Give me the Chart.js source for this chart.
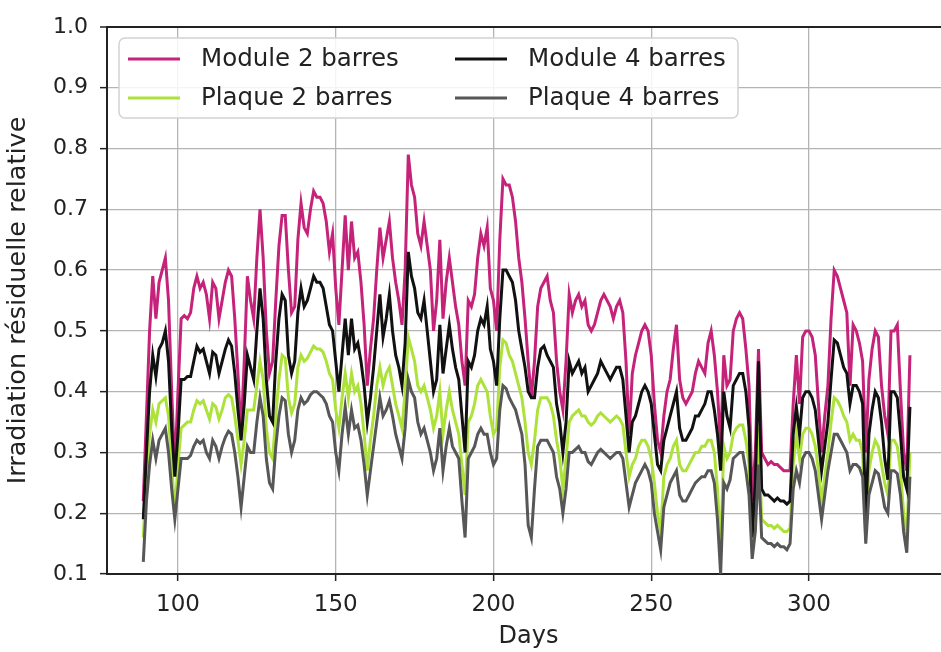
<!DOCTYPE html>
<html>
<head>
<meta charset="utf-8">
<script src="https://cdn.jsdelivr.net/npm/chart.js@4.4.1/dist/chart.umd.min.js"></script>
<style>
  html, body { margin: 0; padding: 0; background: #fff; overflow: hidden; width: 941px; height: 652px; }
  #wrap { position: absolute; left: 0; top: 0; width: 950px; height: 652px; }
</style>
</head>
<body>
<div id="wrap"><canvas id="c" width="950" height="652"></canvas></div>
<script>
// Daily relative residual irradiation, day 89 to day 332
const firstDay = 89;

const module2 = [
  0.22,0.36,0.50,0.59,0.52,0.58,0.60,0.62,0.55,0.40,0.27,
  0.40,0.52,0.525,0.52,0.53,0.57,0.59,0.57,0.58,0.56,
  0.52,0.58,0.57,0.52,0.55,0.58,0.60,0.59,0.52,0.43,
  0.33,0.45,0.59,0.55,0.52,0.62,0.70,0.62,0.50,0.43,
  0.45,0.55,0.64,0.69,0.69,0.60,0.53,0.54,0.65,0.71,
  0.67,0.66,0.70,0.73,0.72,0.72,0.71,0.68,0.63,0.66,
  0.57,0.51,0.60,0.69,0.60,0.68,0.62,0.63,0.58,0.51,
  0.41,0.47,0.52,0.60,0.67,0.62,0.65,0.68,0.62,0.58,
  0.55,0.51,0.60,0.79,0.74,0.72,0.66,0.64,0.68,0.64,
  0.60,0.50,0.55,0.65,0.52,0.58,0.62,0.58,0.54,0.51,
  0.45,0.41,0.55,0.54,0.56,0.62,0.66,0.64,0.67,0.57,
  0.55,0.50,0.65,0.75,0.74,0.74,0.72,0.68,0.62,0.58,
  0.52,0.45,0.39,0.45,0.54,0.57,0.58,0.59,0.55,0.53,
  0.45,0.40,0.37,0.45,0.56,0.53,0.55,0.56,0.54,0.55,
  0.51,0.50,0.51,0.53,0.55,0.56,0.55,0.54,0.52,0.54,
  0.55,0.53,0.45,0.33,0.43,0.46,0.48,0.50,0.51,0.50,
  0.46,0.38,0.32,0.30,0.36,0.40,0.42,0.47,0.51,0.42,
  0.39,0.38,0.39,0.40,0.43,0.45,0.44,0.43,0.48,0.50,
  0.46,0.40,0.31,0.46,0.41,0.42,0.50,0.52,0.53,0.52,
  0.47,0.41,0.22,0.30,0.47,0.30,0.29,0.28,0.285,0.28,
  0.28,0.275,0.27,0.27,0.27,0.38,0.46,0.38,0.49,0.50,
  0.50,0.49,0.46,0.38,0.30,0.36,0.41,0.52,0.60,0.59,
  0.57,0.55,0.53,0.41,0.51,0.50,0.48,0.45,0.30,0.42,
  0.47,0.50,0.49,0.41,0.36,0.33,0.50,0.50,0.51,0.40,
  0.30,0.27,0.46
];

const module4 = [
  0.19,0.30,0.40,0.46,0.425,0.47,0.48,0.50,0.45,0.34,0.26,
  0.33,0.42,0.42,0.425,0.425,0.45,0.475,0.465,0.47,0.45,
  0.43,0.465,0.46,0.43,0.45,0.47,0.485,0.475,0.43,0.37,
  0.32,0.38,0.46,0.44,0.42,0.50,0.57,0.52,0.42,0.36,
  0.35,0.45,0.52,0.56,0.55,0.46,0.43,0.45,0.53,0.57,
  0.54,0.55,0.57,0.59,0.58,0.58,0.57,0.54,0.51,0.50,
  0.45,0.40,0.46,0.52,0.46,0.52,0.47,0.48,0.45,0.41,
  0.35,0.39,0.44,0.50,0.56,0.49,0.52,0.56,0.50,0.46,
  0.44,0.41,0.48,0.63,0.59,0.57,0.53,0.52,0.55,0.50,
  0.45,0.40,0.42,0.51,0.43,0.47,0.51,0.47,0.44,0.42,
  0.36,0.30,0.45,0.44,0.46,0.50,0.52,0.51,0.54,0.47,
  0.45,0.41,0.52,0.60,0.60,0.59,0.58,0.55,0.50,0.47,
  0.44,0.40,0.39,0.39,0.44,0.47,0.475,0.46,0.45,0.44,
  0.38,0.35,0.30,0.35,0.45,0.43,0.44,0.45,0.43,0.44,
  0.40,0.41,0.42,0.43,0.45,0.44,0.43,0.42,0.43,0.44,
  0.44,0.42,0.36,0.30,0.35,0.36,0.38,0.40,0.41,0.40,
  0.38,0.33,0.28,0.27,0.32,0.34,0.36,0.38,0.40,0.34,
  0.32,0.32,0.33,0.34,0.36,0.36,0.37,0.38,0.40,0.40,
  0.37,0.33,0.27,0.40,0.36,0.34,0.41,0.42,0.43,0.43,
  0.40,0.34,0.16,0.25,0.45,0.24,0.23,0.23,0.225,0.22,
  0.225,0.22,0.22,0.215,0.22,0.33,0.375,0.33,0.39,0.40,
  0.40,0.39,0.37,0.32,0.27,0.31,0.35,0.42,0.485,0.48,
  0.46,0.44,0.43,0.38,0.41,0.41,0.40,0.38,0.19,0.33,
  0.37,0.40,0.39,0.35,0.29,0.255,0.40,0.40,0.39,0.33,
  0.26,0.24,0.375
];

const plaque2 = [
  0.16,0.26,0.33,0.37,0.35,0.38,0.385,0.39,0.36,0.28,0.20,
  0.28,0.34,0.345,0.35,0.35,0.37,0.385,0.38,0.385,0.37,
  0.355,0.38,0.375,0.355,0.37,0.39,0.395,0.39,0.36,0.32,
  0.28,0.32,0.37,0.37,0.37,0.41,0.45,0.42,0.34,0.30,
  0.29,0.36,0.42,0.46,0.455,0.39,0.365,0.38,0.44,0.46,
  0.45,0.455,0.465,0.475,0.47,0.47,0.465,0.45,0.43,0.42,
  0.37,0.34,0.39,0.43,0.39,0.43,0.40,0.41,0.38,0.33,
  0.27,0.32,0.36,0.41,0.44,0.41,0.43,0.44,0.41,0.38,
  0.36,0.34,0.40,0.49,0.47,0.45,0.41,0.40,0.41,0.39,
  0.37,0.34,0.36,0.40,0.33,0.37,0.40,0.37,0.35,0.33,
  0.28,0.23,0.35,0.36,0.38,0.41,0.42,0.41,0.40,0.36,
  0.33,0.34,0.44,0.485,0.48,0.46,0.45,0.43,0.41,0.39,
  0.35,0.30,0.28,0.32,0.37,0.39,0.39,0.39,0.38,0.36,
  0.32,0.29,0.24,0.29,0.35,0.36,0.365,0.37,0.36,0.36,
  0.35,0.345,0.35,0.36,0.365,0.36,0.355,0.35,0.355,0.36,
  0.355,0.345,0.30,0.26,0.28,0.29,0.31,0.32,0.32,0.31,
  0.29,0.25,0.20,0.17,0.26,0.28,0.29,0.31,0.32,0.28,
  0.27,0.27,0.28,0.29,0.30,0.30,0.31,0.31,0.32,0.32,
  0.30,0.24,0.14,0.31,0.29,0.30,0.33,0.34,0.345,0.345,
  0.32,0.28,0.14,0.20,0.34,0.19,0.185,0.18,0.18,0.175,
  0.18,0.175,0.17,0.17,0.175,0.28,0.33,0.29,0.33,0.34,
  0.34,0.33,0.31,0.27,0.22,0.26,0.30,0.35,0.39,0.385,
  0.375,0.36,0.35,0.32,0.33,0.32,0.32,0.30,0.16,0.27,
  0.30,0.32,0.31,0.28,0.25,0.23,0.32,0.32,0.31,0.27,
  0.20,0.16,0.30
];

const plaque4 = [
  0.12,0.22,0.28,0.32,0.29,0.32,0.33,0.34,0.30,0.24,0.19,
  0.24,0.29,0.29,0.29,0.295,0.31,0.32,0.315,0.32,0.30,
  0.29,0.32,0.31,0.29,0.31,0.325,0.335,0.33,0.30,0.26,
  0.21,0.26,0.31,0.30,0.30,0.35,0.39,0.36,0.29,0.25,
  0.24,0.31,0.36,0.39,0.385,0.33,0.30,0.32,0.37,0.39,
  0.38,0.385,0.395,0.40,0.40,0.395,0.39,0.38,0.36,0.35,
  0.30,0.27,0.33,0.375,0.33,0.37,0.34,0.345,0.32,0.28,
  0.23,0.27,0.31,0.35,0.39,0.36,0.37,0.385,0.36,0.33,
  0.31,0.29,0.34,0.42,0.40,0.39,0.35,0.33,0.34,0.32,
  0.30,0.27,0.29,0.34,0.27,0.31,0.34,0.31,0.30,0.29,
  0.22,0.16,0.29,0.30,0.31,0.33,0.34,0.33,0.33,0.30,
  0.28,0.29,0.37,0.41,0.405,0.39,0.38,0.37,0.35,0.33,
  0.28,0.18,0.16,0.24,0.31,0.32,0.32,0.32,0.31,0.30,
  0.26,0.24,0.20,0.24,0.30,0.30,0.305,0.31,0.30,0.30,
  0.285,0.28,0.29,0.30,0.305,0.30,0.295,0.29,0.295,0.30,
  0.30,0.29,0.25,0.21,0.23,0.25,0.26,0.27,0.28,0.27,
  0.25,0.20,0.17,0.14,0.21,0.23,0.25,0.26,0.27,0.23,
  0.22,0.22,0.23,0.24,0.25,0.255,0.26,0.26,0.27,0.27,
  0.25,0.19,0.10,0.25,0.24,0.255,0.29,0.295,0.30,0.30,
  0.27,0.23,0.125,0.17,0.28,0.16,0.155,0.15,0.15,0.145,
  0.15,0.145,0.145,0.14,0.15,0.24,0.27,0.25,0.29,0.30,
  0.30,0.29,0.27,0.23,0.19,0.23,0.27,0.30,0.33,0.33,
  0.32,0.31,0.30,0.27,0.28,0.28,0.275,0.26,0.15,0.23,
  0.25,0.27,0.265,0.24,0.21,0.20,0.27,0.27,0.265,0.23,
  0.17,0.135,0.26
];

const days = module2.map((_, i) => firstDay + i);
const dayTicks = [100, 150, 200, 250, 300];
const valueTicks = [0.1, 0.2, 0.3, 0.4, 0.5, 0.6, 0.7, 0.8, 0.9, 1.0];

const FONT = "'DejaVu Sans', 'Liberation Sans', sans-serif";
const INK = '#222222';

const toPoints = vals => vals.map((v, i) => ({ x: days[i], y: v }));

const series = [
  { label: 'Module 2 barres', values: module2, color: '#c5237a', order: 4 },
  { label: 'Plaque 2 barres', values: plaque2, color: '#ade23a', order: 3 },
  { label: 'Module 4 barres', values: module4, color: '#111111', order: 2 },
  { label: 'Plaque 4 barres', values: plaque4, color: '#575757', order: 1 }
];

// Framed legend in two columns inside the plot, upper left
const legendBox = {
  id: 'legendBox',
  afterDraw(chart) {
    const c = chart.ctx;
    const a = chart.chartArea;
    const x0 = a.left + 12, y0 = a.top + 11, w = 619, h = 80;
    c.save();
    c.beginPath();
    c.roundRect(x0, y0, w, h, 6);
    c.fillStyle = 'rgba(255,255,255,0.85)';
    c.fill();
    c.strokeStyle = '#d2d2d2';
    c.lineWidth = 1.5;
    c.stroke();
    c.font = '24.5px ' + FONT;
    c.textBaseline = 'middle';
    c.textAlign = 'left';
    chart.data.datasets.forEach((ds, i) => {
      const col = Math.floor(i / 2), row = i % 2;
      const hx = x0 + 9 + col * 327;
      const hy = y0 + 21 + row * 39;
      c.strokeStyle = ds.borderColor;
      c.lineWidth = 3;
      c.beginPath();
      c.moveTo(hx, hy);
      c.lineTo(hx + 52, hy);
      c.stroke();
      c.fillStyle = INK;
      c.fillText(ds.label, hx + 73, hy + 1);
    });
    c.restore();
  }
};

new Chart(document.getElementById('c'), {
  type: 'line',
  data: {
    datasets: series.map(s => ({
      label: s.label,
      data: toPoints(s.values),
      borderColor: s.color,
      backgroundColor: s.color,
      borderWidth: 3,
      pointRadius: 0,
      tension: 0,
      fill: false,
      order: s.order
    }))
  },
  options: {
    responsive: false,
    animation: false,
    events: [],
    layout: { padding: { top: 27, left: 0, right: 0, bottom: 0 } },
    plugins: { legend: { display: false }, tooltip: { enabled: false } },
    scales: {
      x: {
        type: 'linear',
        min: 77.5,
        max: 344.7,
        afterBuildTicks: s => { s.ticks = dayTicks.map(v => ({ value: v })); },
        afterFit: s => { s.height = 78; },
        grid: { color: '#b4b4b4', lineWidth: 1.3, tickLength: 7, tickColor: INK, tickWidth: 1.5 },
        border: { color: INK, width: 2 },
        ticks: { font: { family: FONT, size: 23 }, color: INK, padding: 10, maxRotation: 0, autoSkip: false },
        title: { display: true, text: 'Days', font: { family: FONT, size: 24 }, color: INK, padding: { top: 0, bottom: 1 } }
      },
      y: {
        min: 0.1,
        max: 1.0,
        afterBuildTicks: s => { s.ticks = valueTicks.map(v => ({ value: v })); },
        afterFit: s => { s.width = 107; },
        grid: {
          color: c => (c.tick && c.tick.value > 0.99) ? INK : '#b4b4b4',
          lineWidth: c => (c.tick && c.tick.value > 0.99) ? 2 : 1.3,
          tickLength: 7, tickColor: INK, tickWidth: 1.5
        },
        border: { color: INK, width: 2 },
        ticks: {
          font: { family: FONT, size: 22 }, color: INK, padding: 12, autoSkip: false,
          callback: v => Number(v).toFixed(1)
        },
        title: { display: true, text: 'Irradiation résiduelle relative', font: { family: FONT, size: 25.5 }, color: INK, padding: { top: 3, bottom: 0 } }
      }
    }
  },
  plugins: [legendBox]
});
</script>
</body>
</html>
